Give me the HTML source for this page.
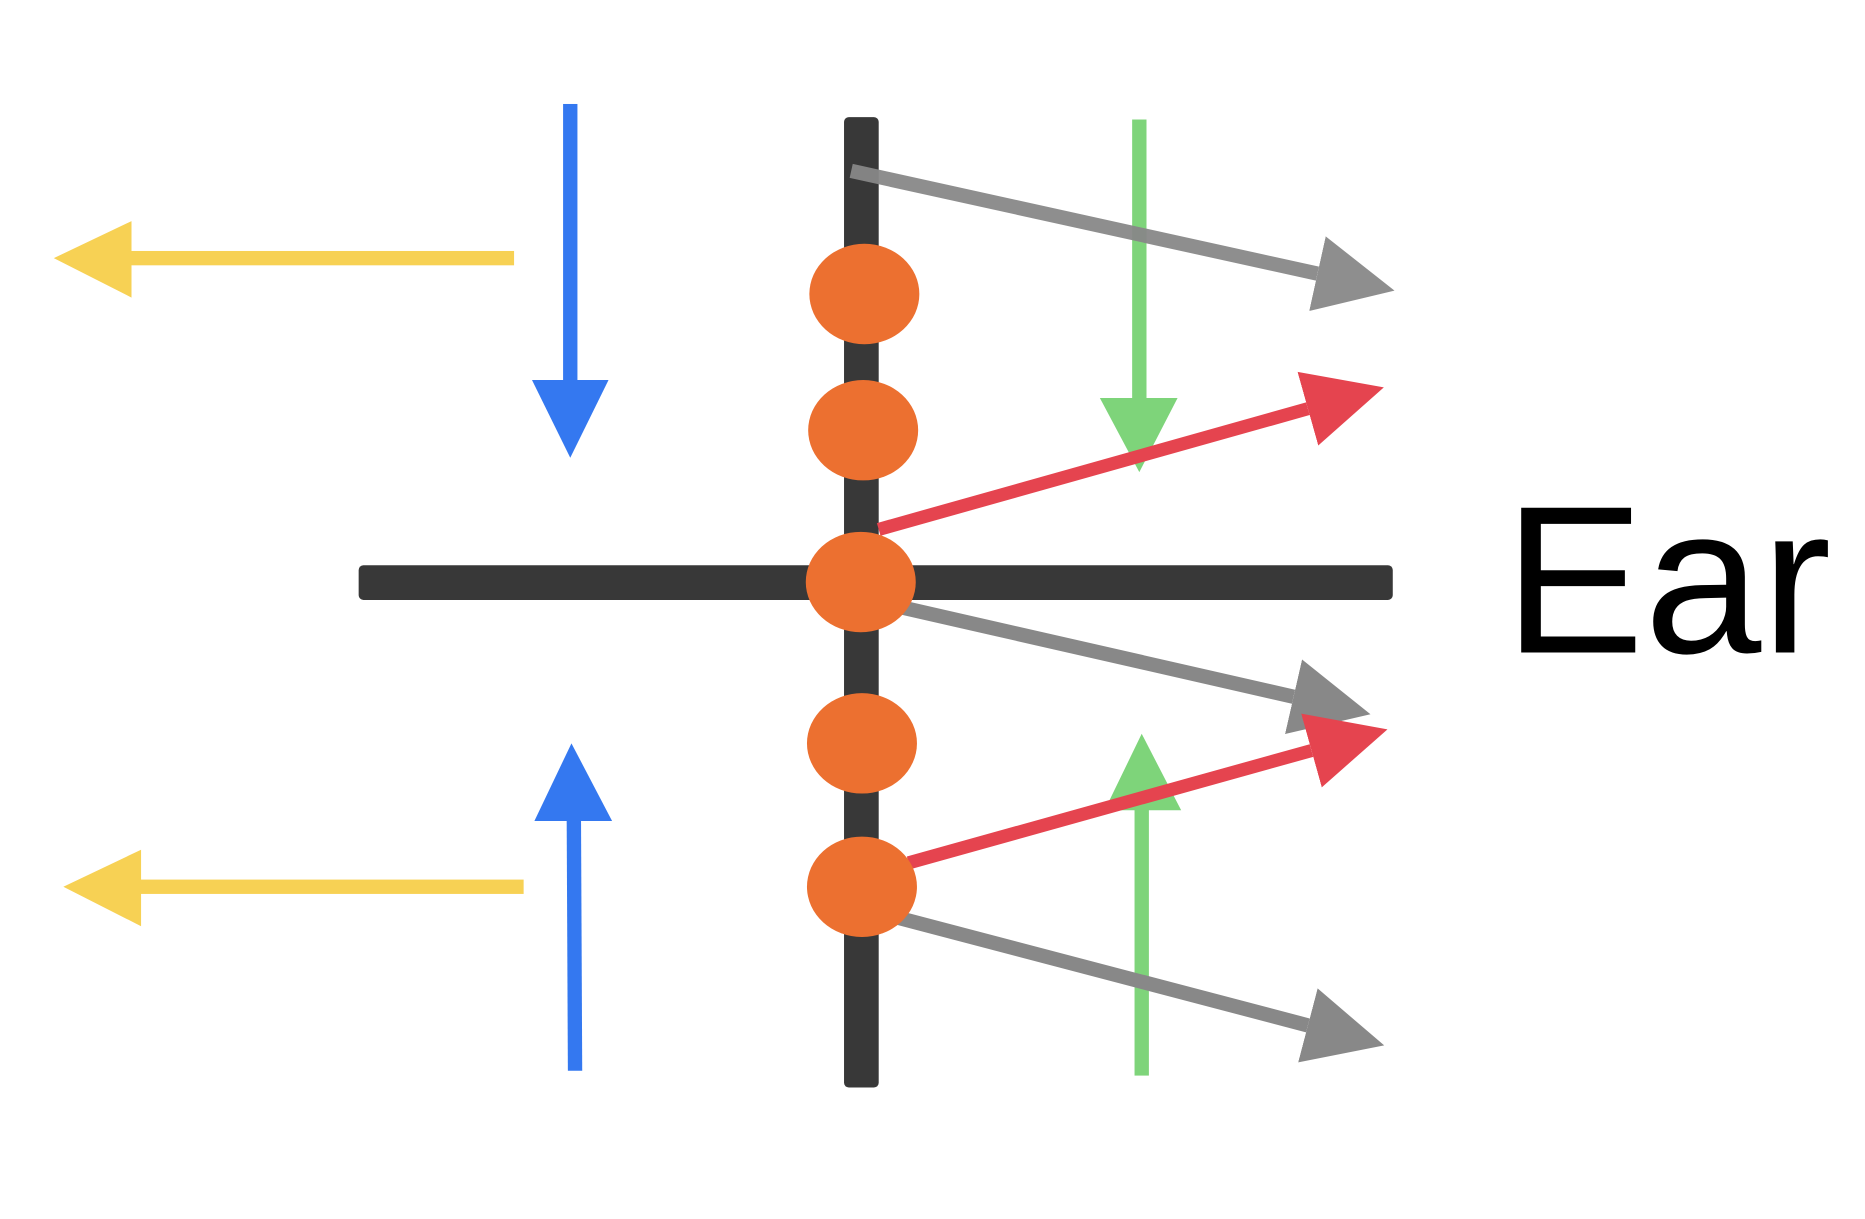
<!DOCTYPE html>
<html><head><meta charset="utf-8"><style>
html,body{margin:0;padding:0;background:#fff;}
svg{display:block;}
</style></head><body>
<svg width="1865" height="1219" viewBox="0 0 1560 1020" preserveAspectRatio="none" xmlns="http://www.w3.org/2000/svg">
<defs>
<marker id="gy" markerUnits="userSpaceOnUse" viewBox="0 -35 70 70" refX="0" refY="0" markerWidth="70" markerHeight="70" orient="auto"><path d="M0,-32 L66,0 L0,32 z" fill="#888"/></marker>
<marker id="rd" markerUnits="userSpaceOnUse" viewBox="0 -35 70 70" refX="0" refY="0" markerWidth="70" markerHeight="70" orient="auto"><path d="M0,-32 L66,0 L0,32 z" fill="#E5444F"/></marker>
</defs>
<rect width="1560" height="1020" fill="#fff"/>
<rect x="706" y="98" width="29" height="812" rx="4" fill="#383838"/>
<rect x="300" y="473" width="865" height="29" rx="4" fill="#383838"/>
<rect x="105" y="210" width="325" height="12" fill="#F7D154"/>
<path d="M45,216 L110,185 L110,249 z" fill="#F7D154"/>
<rect x="112" y="736" width="326" height="12" fill="#F7D154"/>
<path d="M53,742 L118,711 L118,775 z" fill="#F7D154"/>
<rect x="471" y="87" width="12" height="235" fill="#3478F0"/>
<path d="M477,383 L445,318 L509,318 z" fill="#3478F0"/>
<polygon points="474,684 486,684 487,896 475,896" fill="#3478F0"/>
<path d="M478,622 L447,687 L512,687 z" fill="#3478F0"/>
<rect x="947" y="100" width="12" height="236" fill="#7ED47A"/>
<path d="M953,395 L920,333 L985,333 z" fill="#7ED47A"/>
<rect x="949" y="676" width="12" height="224" fill="#7ED47A"/>
<path d="M955,614 L924,678 L988,678 z" fill="#7ED47A"/>
<line x1="712" y1="143" x2="1102" y2="229" stroke="#888" stroke-width="12" marker-end="url(#gy)" opacity="0.95"/>
<line x1="735" y1="443" x2="1094" y2="342" stroke="#E5444F" stroke-width="11" marker-end="url(#rd)"/>
<line x1="740" y1="505" x2="1082" y2="583" stroke="#888" stroke-width="12" marker-end="url(#gy)"/>
<line x1="760" y1="722" x2="1097" y2="628" stroke="#E5444F" stroke-width="11" marker-end="url(#rd)"/>
<line x1="740" y1="765" x2="1094" y2="858" stroke="#888" stroke-width="12" marker-end="url(#gy)"/>
<ellipse cx="723" cy="246" rx="46" ry="42" fill="#EC7030"/>
<ellipse cx="722" cy="360" rx="46" ry="42" fill="#EC7030"/>
<ellipse cx="720" cy="487" rx="46" ry="42" fill="#EC7030"/>
<ellipse cx="721" cy="622" rx="46" ry="42" fill="#EC7030"/>
<ellipse cx="721" cy="742" rx="46" ry="42" fill="#EC7030"/>
<text x="1258" y="546" font-family="Liberation Sans, sans-serif" font-size="176" fill="#000">Ear</text>
</svg>
</body></html>
